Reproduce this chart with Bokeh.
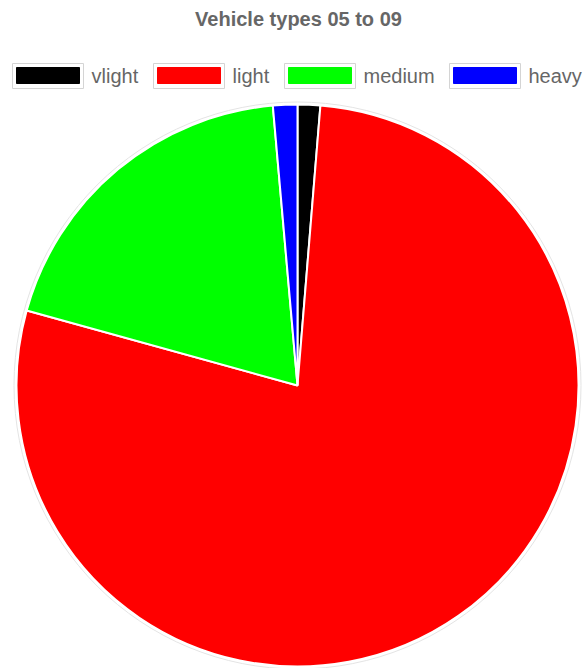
import numpy as np
from bokeh.plotting import figure
from bokeh.models import Range1d, ColumnDataSource
from bokeh.core.properties import value
from bokeh.embed import file_html
from bokeh.resources import INLINE

# ---- data ----
title = "Vehicle types 05 to 09"
categories = ["vlight", "light", "medium", "heavy"]
shares = [1.3, 78.0, 19.3, 1.4]
colors = ["#000000", "#ff0000", "#00ff00", "#0000ff"]

# ---- layout (picture pixels; y data = H - picture y) ----
W, H = 588, 668
cx, cy = 297, H - 385
R = 281
FONT = "Liberation Sans"
GREY = "#666666"

p = figure(width=W, height=H, output_backend="svg", toolbar_location=None,
           x_range=Range1d(0, W), y_range=Range1d(0, H),
           min_border=0)
p.axis.visible = False
p.grid.visible = False
p.outline_line_color = None
p.background_fill_color = "white"
p.border_fill_color = "white"

vals = np.array(shares, dtype=float)
frac = vals / vals.sum()
ends = np.cumsum(frac)
starts = ends - frac
start_angle = np.pi / 2 - starts * 2 * np.pi
end_angle = np.pi / 2 - ends * 2 * np.pi

src = ColumnDataSource(dict(cat=categories, color=colors,
                            sa=start_angle, ea=end_angle))

# faint outer ring
p.circle(x=[cx], y=[cy], radius=R + 2.5, fill_color=None,
         line_color="#e4e4e4", line_width=1)

p.wedge(x=cx, y=cy, radius=R, start_angle="sa", end_angle="ea",
        direction="clock", fill_color="color", line_color="white",
        line_width=2, source=src)

# title
p.text(x=[298], y=[H - 18], text=[title], text_font=value(FONT),
       text_font_style="bold", text_font_size="20px", text_color=GREY,
       text_align="center", text_baseline="middle")

# legend
box_cx = [47.5, 188.5, 319.5, 484.5]
text_x = [91, 232, 363, 528]
ly = H - 75
p.rect(x=box_cx, y=[ly - 0.5] * 4, width=71, height=25, fill_color="white",
       line_color="#d4d4d4", line_width=1)
p.rect(x=box_cx, y=[ly] * 4, width=63, height=16, fill_color=colors,
       line_color=colors, line_width=1)
p.text(x=text_x, y=[ly] * 4, text=categories, text_font=value(FONT),
       text_font_size="20px", text_color=GREY, text_align="left",
       text_baseline="middle")

open("out.html", "w").write(file_html(p, INLINE))
